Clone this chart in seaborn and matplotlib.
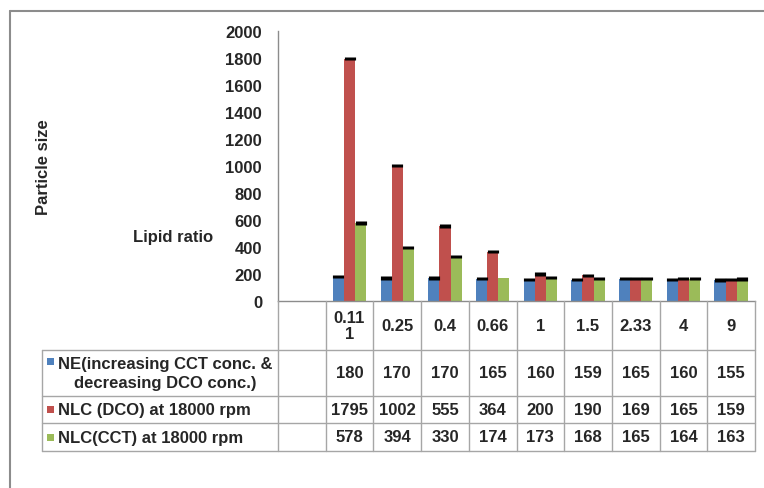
import textwrap
import numpy as np
import pandas as pd
import matplotlib
matplotlib.use("Agg")
import matplotlib.pyplot as plt
from matplotlib.lines import Line2D
from matplotlib.patches import Rectangle
import seaborn as sns

# Lipid ratio categories (shown in the data table header)
ratios = ["0.111", "0.25", "0.4", "0.66", "1", "1.5", "2.33", "4", "9"]

series_names = [
    "NE(increasing CCT conc. &\ndecreasing DCO conc.)",
    "NLC (DCO) at 18000 rpm",
    "NLC(CCT) at 18000 rpm",
]

# Particle size (nm) per series
ne_size = [180, 170, 170, 165, 160, 159, 165, 160, 155]
nlc_dco_size = [1795, 1002, 555, 364, 200, 190, 169, 165, 159]
nlc_cct_size = [578, 394, 330, 174, 173, 168, 165, 164, 163]

# Error bar half-widths
ne_err = [12, 12, 12, 12, 12, 12, 12, 12, 12]
nlc_dco_err = [12, 12, 12, 12, 12, 12, 12, 12, 12]
nlc_cct_err = [12, 12, 12, 0, 12, 12, 12, 12, 12]

y_ticks = [0, 200, 400, 600, 800, 1000, 1200, 1400, 1600, 1800, 2000]
colors = ["#4F81BD", "#C0504D", "#9BBB59"]

sizes = [ne_size, nlc_dco_size, nlc_cct_size]
errs = [ne_err, nlc_dco_err, nlc_cct_err]

df = pd.DataFrame({
    "ratio": ratios * 3,
    "size": ne_size + nlc_dco_size + nlc_cct_size,
    "series": [s for s in series_names for _ in ratios],
})

sns.set_style("white")
plt.rcParams["font.family"] = ["Liberation Sans", "DejaVu Sans"]
plt.rcParams["font.weight"] = "bold"

W, H = 764, 489
fig = plt.figure(figsize=(W / 100, H / 100), dpi=100)


def fx(px):
    return px / W


def fy(py):
    return 1 - py / H


ax_left, ax_right, ax_top, ax_bot = 278, 755, 32, 302
ax = fig.add_axes([fx(ax_left), fy(ax_bot), (ax_right - ax_left) / W, (ax_bot - ax_top) / H])

sns.barplot(data=df, x="ratio", y="size", hue="series", order=ratios,
            hue_order=series_names, palette=colors, width=0.7, saturation=1,
            errorbar=None, legend=False, linewidth=0, ax=ax)

ax.set_xlim(-1.5, len(ratios) - 0.5)
ax.set_ylim(0, 2000)
ax.set_yticks(y_ticks)
ax.set_yticklabels([str(t) for t in y_ticks], fontsize=12, fontweight="bold")
ax.tick_params(axis="y", length=0, pad=11.5)
ax.set_xticks([])
ax.set_xlabel("")
ax.set_ylabel("")
for side in ["top", "right"]:
    ax.spines[side].set_visible(False)
for side in ["left", "bottom"]:
    ax.spines[side].set_color("#8c8c8c")
    ax.spines[side].set_linewidth(1.0)

# Error bars drawn as black blocks sitting on each bar top
for container, err_list in zip(ax.containers, errs):
    for bar, e in zip(container, err_list):
        if e <= 0:
            continue
        xc = bar.get_x() + bar.get_width() / 2
        x0 = ax.transData.transform((bar.get_x(), 0))[0]
        x1 = ax.transData.transform((bar.get_x() + bar.get_width(), 0))[0]
        lw_pt = (x1 - x0) * 72 / fig.dpi
        ax.errorbar(xc, bar.get_height(), yerr=e, fmt="none", ecolor="black",
                    elinewidth=lw_pt, capsize=0)

# ---- data table under the plot ----
grid_col = "#a6a6a6"
col_edges = [ax.transData.transform((v, 0))[0] for v in np.arange(-1.5, len(ratios) + 0.5, 1.0)]
header_top, header_bot = 302, 351
row_bounds = [351, 397, 424, 452]
legend_left = 42


def hline(y, x0, x1):
    fig.add_artist(Line2D([fx(x0), fx(x1)], [fy(y), fy(y)], color=grid_col, lw=1.0))


def vline(x, y0, y1):
    fig.add_artist(Line2D([fx(x), fx(x)], [fy(y0), fy(y1)], color=grid_col, lw=1.0))


for yb in row_bounds:
    hline(yb, legend_left, col_edges[-1])
vline(legend_left, row_bounds[0], row_bounds[-1])
for xe in col_edges:
    vline(xe, header_top, row_bounds[-1])

# header: ratio labels
for k, lab in enumerate(ratios):
    xc = (col_edges[k + 1] + col_edges[k + 2]) / 2
    fig.text(fx(xc), fy((header_top + header_bot) / 2), "\n".join(textwrap.wrap(lab, 4)),
             ha="center", va="center", fontsize=12, fontweight="bold", linespacing=1.1)

# value rows
for r, vals in enumerate(sizes):
    yc = (row_bounds[r] + row_bounds[r + 1]) / 2
    for k, v in enumerate(vals):
        xc = (col_edges[k + 1] + col_edges[k + 2]) / 2
        fig.text(fx(xc), fy(yc), str(v), ha="center", va="center",
                 fontsize=12, fontweight="bold")

# legend cells with colour keys
first_line_y = [362, 410, 438]
for r, name in enumerate(series_names):
    yc = (row_bounds[r] + row_bounds[r + 1]) / 2
    fig.text(fx(58), fy(yc), name, ha="left", va="center", multialignment="center",
             fontsize=12, fontweight="bold", linespacing=1.35)
    ky = first_line_y[r]
    fig.add_artist(Rectangle((fx(47), fy(ky + 3.5)), 7 / W, 7 / H,
                             transform=fig.transFigure, color=colors[r], lw=0))

# axis titles
fig.text(fx(43), fy(167), "Particle size", rotation=90, ha="center", va="center",
         fontsize=12, fontweight="bold")
fig.text(fx(173.5), fy(238), "Lipid ratio", ha="center", va="center",
         fontsize=12, fontweight="bold")

# chart area border (left and top edges)
frame_col = "#8c8c8c"
fig.add_artist(Line2D([fx(10), fx(10)], [fy(12), fy(H)], color=frame_col, lw=1.5))
fig.add_artist(Line2D([fx(10), fx(W)], [fy(12), fy(12)], color=frame_col, lw=1.5))

fig.savefig("out.png", dpi=100)
